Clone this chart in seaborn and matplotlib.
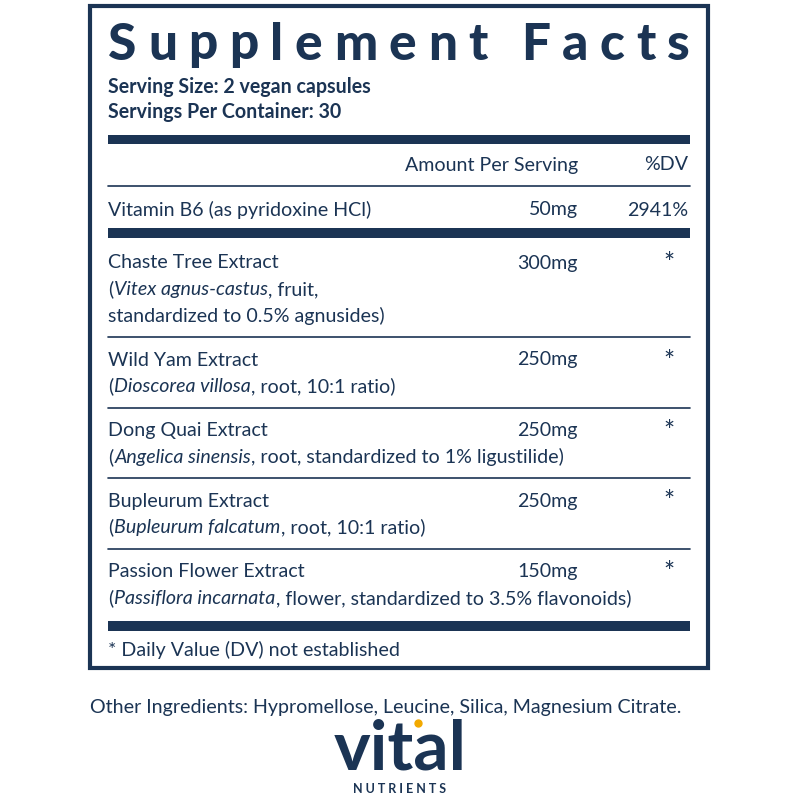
import matplotlib
matplotlib.use("Agg")
import matplotlib.pyplot as plt
import seaborn as sns

sns.set_theme(style="white")
plt.rcParams['font.family'] = ['Lato', 'DejaVu Sans']

NAVY = "#1b3454"
title = "Supplement Facts"
serving = ["Serving Size: 2 vegan capsules", "Servings Per Container: 30"]
header = ["Amount Per Serving", "%DV"]
vit_name = "Vitamin B6 (as pyridoxine HCl)"
vit_amount = "50mg"
vit_dv = "2941%"
names = ["Chaste Tree Extract", "Wild Yam Extract", "Dong Quai Extract",
         "Bupleurum Extract", "Passion Flower Extract"]
details = [
    [[("Vitex agnus-castus", True), (", fruit,", False)],
     [("standardized to 0.5% agnusides)", False)]],
    [[("Dioscorea villosa", True), (", root, 10:1 ratio)", False)]],
    [[("Angelica sinensis", True), (", root, standardized to 1% ligustilide)", False)]],
    [[("Bupleurum falcatum", True), (", root, 10:1 ratio)", False)]],
    [[("Passiflora incarnata", True), (", flower, standardized to 3.5% flavonoids)", False)]],
]
amounts = ["300mg", "250mg", "250mg", "250mg", "150mg"]
dvs = ["*", "*", "*", "*", "*"]
footnote = "* Daily Value (DV) not established"
other = "Other Ingredients: Hypromellose, Leucine, Silica, Magnesium Citrate."

fig = plt.figure(figsize=(8, 8), dpi=100)
ax = fig.add_axes([0, 0, 1, 1])
ax.set_xlim(0, 800); ax.set_ylim(800, 0); ax.axis("off")
fig.canvas.draw()
r = fig.canvas.get_renderer()
FS = 14.1

def seg_text(x, y, segs):
    for s, it in segs:
        t = ax.text(x, y, s, fontsize=FS, color=NAVY, va="center",
                    style="italic" if it else "normal")
        x += t.get_window_extent(r).width

ax.add_patch(plt.Rectangle((90, 6), 618, 662, fill=False, ec=NAVY, lw=3))
n = len(title)
x0, x1 = 108, 690
widths = []
for ch in title:
    t = ax.text(0, 0, ch if ch != " " else "n", fontsize=37, fontweight="black")
    widths.append(t.get_window_extent(r).width if ch != " " else 10); t.remove()
gap = (x1 - x0 - sum(widths)) / (n - 1)
x = x0
for ch, w in zip(title, widths):
    ax.text(x, 45, ch, fontsize=37, fontweight="black", color=NAVY, va="center")
    x += w + gap
ax.text(108, 87, serving[0], fontsize=FS, fontweight="bold", color=NAVY, va="center")
ax.text(108, 112, serving[1], fontsize=FS, fontweight="bold", color=NAVY, va="center")

def bar(y, h):
    ax.add_patch(plt.Rectangle((108, y), 582, h, color=NAVY, lw=0))
def line(y):
    ax.plot([108, 690], [y, y], color=NAVY, lw=1.2)

bar(135, 9)
ax.text(578, 165, header[0], fontsize=FS, color=NAVY, va="center", ha="right")
ax.text(688, 165, header[1], fontsize=FS, color=NAVY, va="center", ha="right")
line(186)
ax.text(108, 210, vit_name, fontsize=FS, color=NAVY, va="center")
ax.text(578, 210, vit_amount, fontsize=FS, color=NAVY, va="center", ha="right")
ax.text(688, 210, vit_dv, fontsize=FS, color=NAVY, va="center", ha="right")
bar(228, 10)

y = 263
for i, (nm, det, am, dv) in enumerate(zip(names, details, amounts, dvs)):
    ax.text(108, y, nm, fontsize=FS, color=NAVY, va="center")
    ax.text(578, y, am, fontsize=FS, color=NAVY, va="center", ha="right")
    ax.text(675, y + 2, dv, fontsize=19, color=NAVY, va="center", ha="right")
    yy = y
    for k, segs in enumerate(det):
        yy += 26.5
        if k == 0:
            ax.text(108, yy, "(", fontsize=FS, color=NAVY, va="center")
            t = ax.text(0, 0, "(", fontsize=FS); w = t.get_window_extent(r).width; t.remove()
            seg_text(108 + w + 1, yy, segs)
        else:
            seg_text(108, yy, segs)
    if i < len(names) - 1:
        line(yy + 21)
        y = yy + 44
    else:
        bar(yy + 23, 10)
ax.text(108, 650, footnote, fontsize=FS, color=NAVY, va="center")
ax.text(90, 707, other, fontsize=FS, color=NAVY, va="center")
ax.text(400, 750, "vital", fontsize=50, fontweight="bold", color=NAVY, va="center", ha="center")
ax.text(400, 789, "N U T R I E N T S", fontsize=9, fontweight="bold", color=NAVY, va="center", ha="center")
ax.plot([418], [723], marker="o", color="#f2a900", ms=5)
fig.savefig("out.png", dpi=100)
